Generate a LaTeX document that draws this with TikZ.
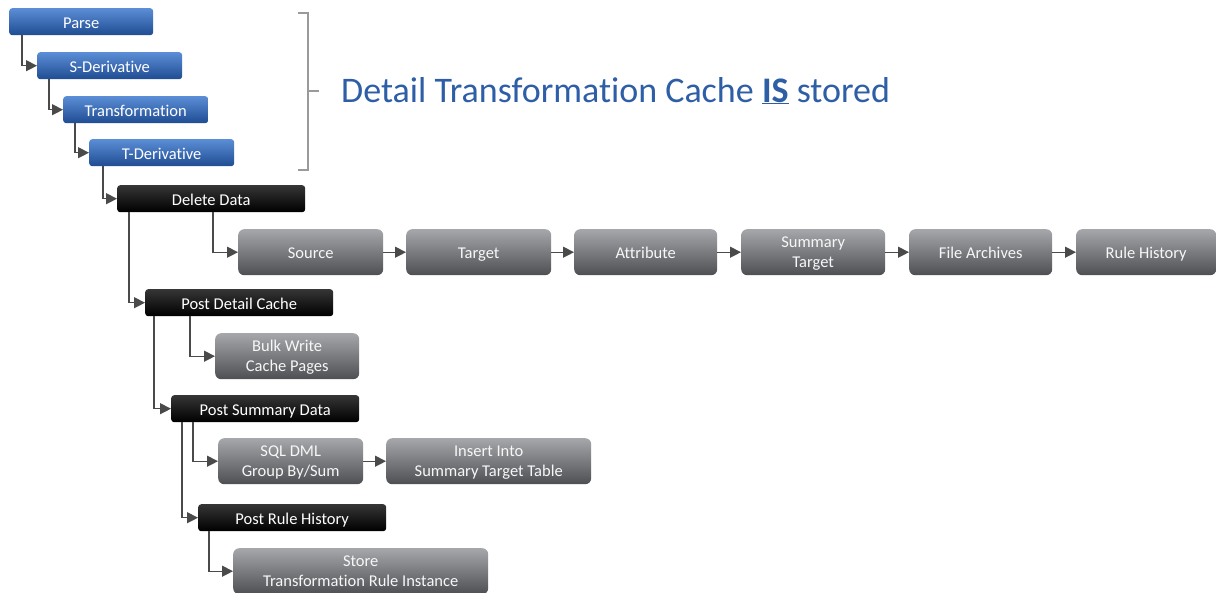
\documentclass[tikz,border=0pt]{standalone}
\usepackage{fontspec}
\setmainfont[Ligatures=NoCommon]{Carlito}
\usetikzlibrary{arrows.meta,calc}
\definecolor{blueTop}{HTML}{5B8ED6}
\definecolor{blueBot}{HTML}{1F4C93}
\definecolor{blackTop}{HTML}{363636}
\definecolor{blackBot}{HTML}{000000}
\definecolor{grayTop}{HTML}{A5A7AA}
\definecolor{grayBot}{HTML}{4D4F53}
\definecolor{linkGray}{HTML}{4A4A4A}
\definecolor{braceGray}{HTML}{9A9A9A}
\definecolor{titleBlue}{HTML}{2E5EA6}
\tikzset{
  box/.style={anchor=north west, inner sep=0pt, text=white, align=center,
    text depth=0pt, font=\fontsize{16.5}{20}\selectfont},
  oneline/.style={text height=13.5pt},
  bluebox/.style={box, oneline, rounded corners=3pt, top color=blueTop, bottom color=blueBot,
    minimum height=27pt, minimum width=145pt},
  blackbox/.style={box, oneline, rounded corners=3pt, top color=blackTop, bottom color=blackBot,
    minimum height=27pt, minimum width=188pt},
  graybox/.style={box, rounded corners=6pt, top color=grayTop, bottom color=grayBot,
    minimum height=46pt, minimum width=145pt, text=white!94!gray},
  link/.style={draw=linkGray, line width=1.3pt, -{Triangle[length=11pt,width=11pt]}}
}
\begin{document}
\begin{tikzpicture}[x=1pt,y=-1pt]
\useasboundingbox (0,0) rectangle (1217,592);

% cache-building steps
\node[bluebox, minimum width=144pt] (parse) at (9,8)  {Parse};
\node[bluebox] (sder)  at (37,52)  {S-Derivative};
\node[bluebox] (trans) at (63,96)  {Transformation};
\node[bluebox] (tder)  at (89,139) {T-Derivative};

% posting steps
\node[blackbox] (del)  at (117,185) {Delete Data};
\node[blackbox] (pdc)  at (145,289) {Post Detail Cache};
\node[blackbox] (psd)  at (171,395) {Post Summary Data};
\node[blackbox] (prh)  at (198,504) {Post Rule History};

% delete chain
\node[graybox, oneline] (src)  at (238,229)  {Source};
\node[graybox, oneline] (tgt)  at (406,229)  {Target};
\node[graybox, oneline, minimum width=143pt] (attr) at (574,229)  {Attribute};
\node[graybox, minimum width=144pt] (sumt) at (741,229)  {Summary\\Target};
\node[graybox, oneline, minimum width=143pt] (farc) at (909,229)  {File Archives};
\node[graybox, oneline, minimum width=140pt] (rhis) at (1076,229) {Rule History};

% sub-steps
\node[graybox, minimum width=144pt] (bulk) at (215,333) {Bulk Write\\Cache Pages};
\node[graybox] (sql)  at (218,438) {SQL DML\\Group By/Sum};
\node[graybox, minimum width=205pt] (ins)  at (386,438) {Insert Into\\Summary Target Table};
\node[graybox, minimum width=255pt] (store) at (233,548) {Store\\Transformation Rule Instance};

% elbow connectors
\draw[link] ($(parse.south west)+(13,0)$) |- (sder.west);
\draw[link] ($(sder.south west)+(12,0)$)  |- (trans.west);
\draw[link] ($(trans.south west)+(12,0)$) |- (tder.west);
\draw[link] ($(tder.south west)+(14,0)$)  |- (del.west);
\draw[link] ($(del.south west)+(12,0)$)   |- (pdc.west);
\draw[link] ($(del.south west)+(96,0)$)   |- (src.west);
\draw[link] ($(pdc.south west)+(9,0)$)    |- (psd.west);
\draw[link] ($(pdc.south west)+(45,0)$)   |- (bulk.west);
\draw[link] ($(psd.south west)+(11,0)$)   |- (prh.west);
\draw[link] ($(psd.south west)+(22,0)$)   |- (sql.west);
\draw[link] ($(prh.south west)+(11,0)$)   |- (store.west);

% straight connectors
\draw[link] (src) -- (tgt);
\draw[link] (tgt) -- (attr);
\draw[link] (attr) -- (sumt);
\draw[link] (sumt) -- (farc);
\draw[link] (farc) -- (rhis);
\draw[link] (sql) -- (ins);

% brace and caption
\draw[braceGray, line width=1.2pt] (298,13) -- (308,13) -- (308,170) -- (298,170);
\draw[braceGray, line width=1.2pt] (308,91) -- (319,91);
\node[anchor=base west, inner sep=0pt, text=titleBlue, font=\fontsize{36}{40}\selectfont]
  (cap) at (341,102) {Detail Transformation Cache \underline{\textbf{IS}} stored};
\end{tikzpicture}
\end{document}
